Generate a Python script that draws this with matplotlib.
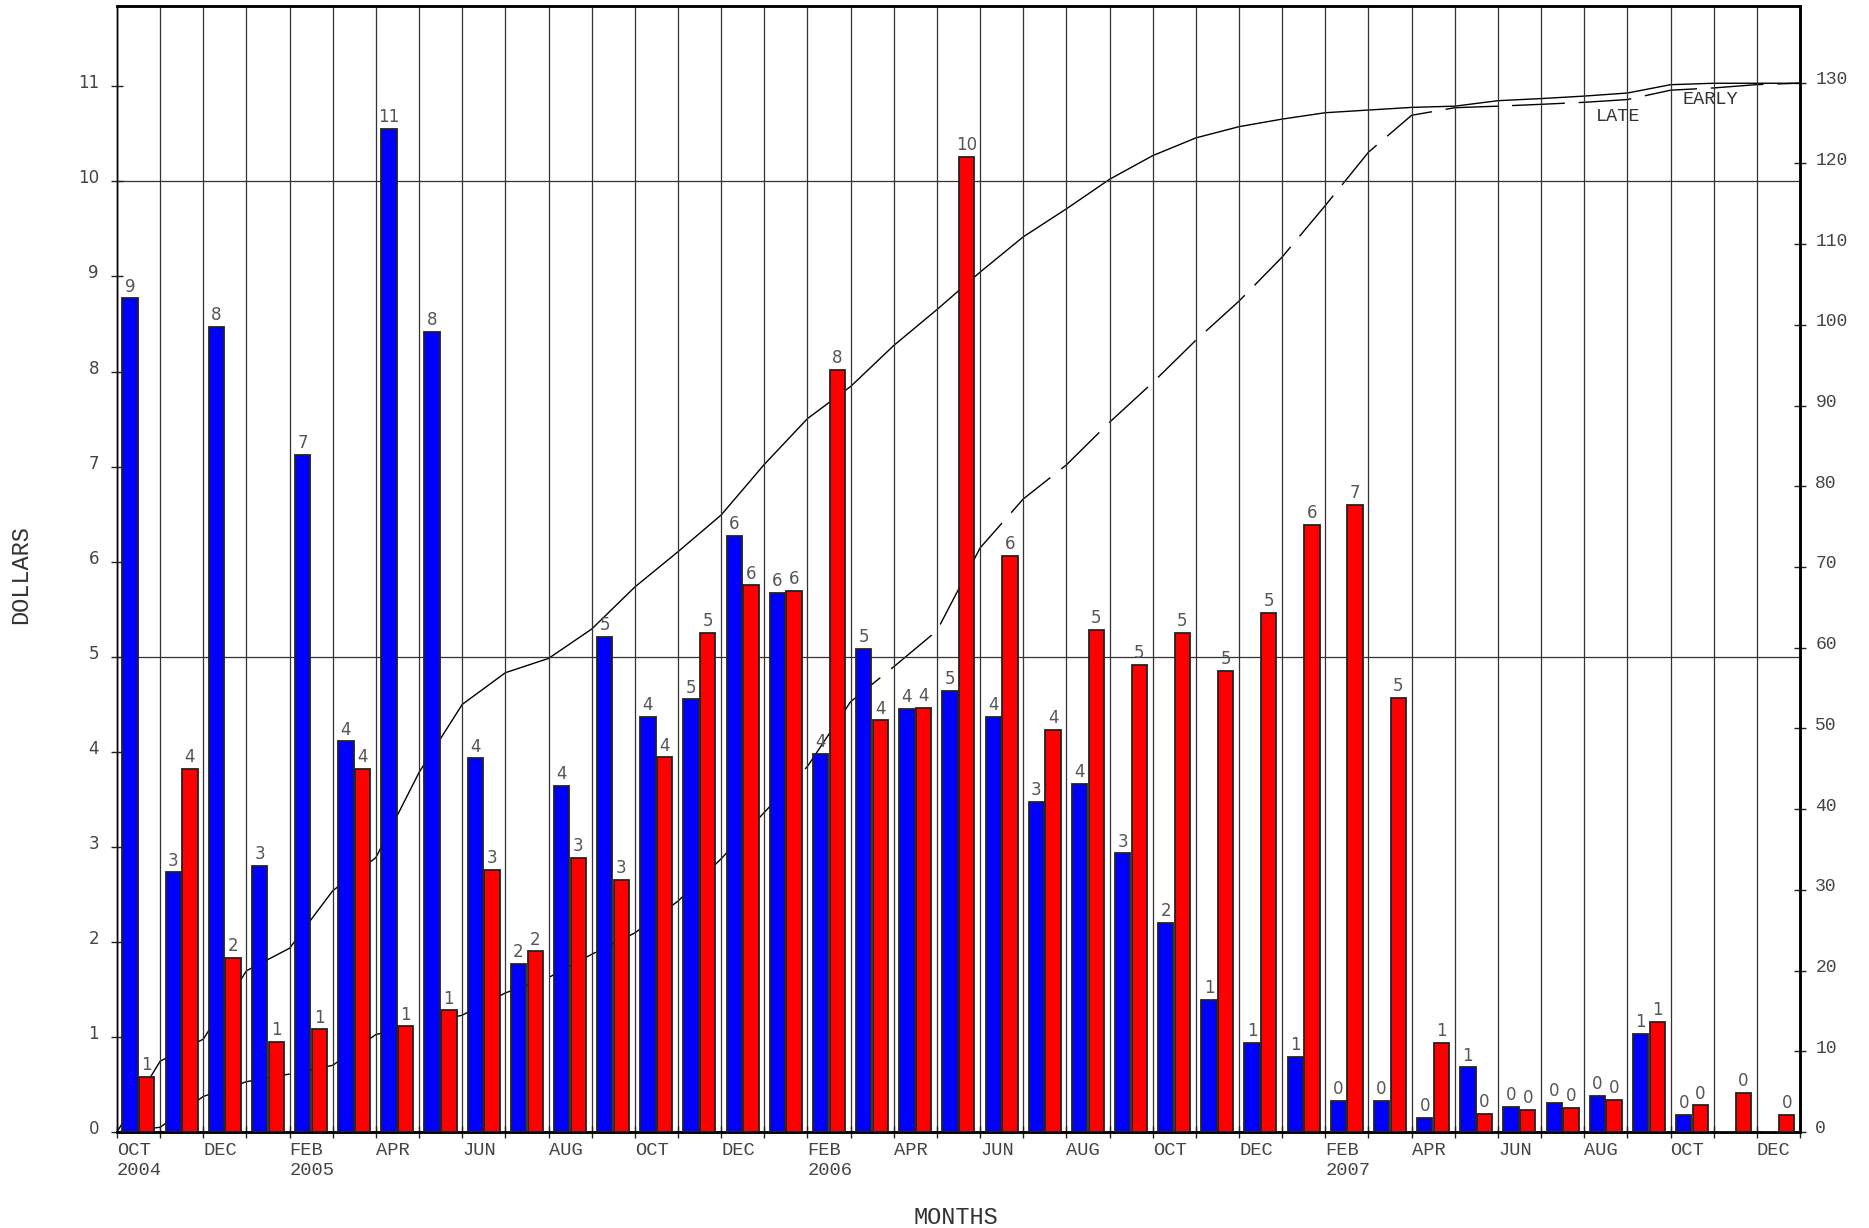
import numpy as np
import matplotlib
matplotlib.use('Agg')
import matplotlib.pyplot as plt
import matplotlib.transforms as mtransforms

# ---- data ----
month_ticklabels = ["OCT\n2004", "", "DEC", "", "FEB\n2005", "", "APR", "", "JUN", "", "AUG", "",
                    "OCT", "", "DEC", "", "FEB\n2006", "", "APR", "", "JUN", "", "AUG", "",
                    "OCT", "", "DEC", "", "FEB\n2007", "", "APR", "", "JUN", "", "AUG", "",
                    "OCT", "", "DEC", ""]
early = [8.77, 2.73, 8.47, 2.80, 7.12, 4.11, 10.55, 8.42, 3.93, 1.77, 3.64, 5.21,
         4.37, 4.55, 6.27, 5.67, 3.98, 5.08, 4.45, 4.64, 4.37, 3.47, 3.66, 2.93,
         2.20, 1.39, 0.94, 0.79, 0.33, 0.33, 0.15, 0.68, 0.26, 0.31, 0.38, 1.03,
         0.18, 0.0, 0.0]
late = [0.58, 3.82, 1.83, 0.95, 1.08, 3.82, 1.11, 1.28, 2.76, 1.90, 2.88, 2.65,
        3.94, 5.25, 5.75, 5.69, 8.02, 4.33, 4.46, 10.26, 6.06, 4.23, 5.28, 4.91,
        5.25, 4.85, 5.46, 6.39, 6.60, 4.57, 0.94, 0.19, 0.23, 0.25, 0.34, 1.16,
        0.28, 0.41, 0.18]
line_labels = ["EARLY", "LATE"]

MONO = ['Liberation Mono', 'DejaVu Sans Mono']
SANS = ['DejaVu Sans']
TXT = '#444444'

n = len(early)
idx = np.arange(n)
cum_early = np.concatenate([[0.0], np.cumsum(early)])
cum_late = np.concatenate([[0.0], np.cumsum(late)])

fig = plt.figure(figsize=(18.69, 12.28), dpi=100)
ax = fig.add_axes([0.0626, 0.0782, 0.9005, 0.9169])
ax2 = ax.twinx()
ax.set_zorder(ax2.get_zorder() + 1)
ax.patch.set_visible(False)

ymax = 11.845
ratio = 11.777
ax.set_ylim(0, ymax)
ax2.set_ylim(0, ymax * ratio)
ax.set_xlim(0, n)
ax2.set_xlim(0, n)

# vertical month grid
ax.set_xticks(np.arange(n + 1))
ax.set_xticklabels(month_ticklabels, fontsize=13.5, family=MONO, color=TXT,
                   ha='left', multialignment='left', linespacing=1.25)
ax.grid(axis='x', color='#333333', lw=0.9)
ax.set_axisbelow(True)
for yv in (5, 10):
    ax.axhline(yv, color='#333333', lw=0.9, zorder=0.5)

# bars
w = 0.355
be = ax.bar(idx + 0.303, early, width=w, color='#0000ff', edgecolor='#222222', lw=1.3, zorder=3)
bl = ax.bar(idx + 0.69, late, width=w, color='#ff0000', edgecolor='#222222', lw=1.3, zorder=3)
for bars, vals in ((be, early), (bl, late)):
    for b, v in zip(bars, vals):
        if v > 0:
            ax.annotate(str(int(round(v))), (b.get_x() + b.get_width() / 2, v),
                        xytext=(0, 2), textcoords='offset points', ha='center', va='bottom',
                        fontsize=12, family=SANS, color='#555555', zorder=4)

# cumulative lines on right axis
x_pts = np.arange(n + 1)
ax2.plot(x_pts, cum_early, color='black', lw=1.0, zorder=2)
ax2.plot(x_pts, cum_late, color='black', lw=1.0, ls=(0, (38, 10)), zorder=2)
ax2.text(36.92, 127.9, line_labels[0], fontsize=13.3, family=MONO, color='#333333',
         ha='center', va='center')
ax2.text(34.78, 125.8, line_labels[1], fontsize=13.3, family=MONO, color='#333333',
         ha='center', va='center')

# ticks
ax.set_yticks(np.arange(0, 12))
ax.set_yticklabels([str(i) for i in range(12)], fontsize=12, family=SANS, color=TXT)
ax2.set_yticks(np.arange(0, 140, 10))
ax2.set_yticklabels([str(i) for i in range(0, 140, 10)], fontsize=13, family=MONO, color=TXT)
ax.tick_params(axis='x', direction='inout', length=8, width=1.0, pad=3, color='#222222')
ax.tick_params(axis='y', direction='inout', length=8, width=1.0, pad=9, color='#222222')
ax2.tick_params(axis='y', direction='inout', length=8, width=1.0, pad=7, color='#222222')

# small upward shift of y tick labels
off = mtransforms.ScaledTranslation(0, 5 / 100, fig.dpi_scale_trans)
for lab in ax.get_yticklabels() + ax2.get_yticklabels():
    lab.set_transform(lab.get_transform() + off)

for a in (ax, ax2):
    a.spines['top'].set_linewidth(1.8)
    a.spines['bottom'].set_linewidth(1.8)
    a.spines['right'].set_linewidth(1.8)
    a.spines['left'].set_linewidth(1.0)
    for s in a.spines.values():
        s.set_color('black')

fig.text(21 / 1869, 1 - 575 / 1228, 'DOLLARS', rotation=90, ha='center', va='center',
         fontsize=17, family=MONO, color='#333333')
fig.text(956 / 1869, 1 - 1218 / 1228, 'MONTHS', ha='center', va='center',
         fontsize=17, family=MONO, color='#333333')

fig.savefig('out.png', dpi=100)
